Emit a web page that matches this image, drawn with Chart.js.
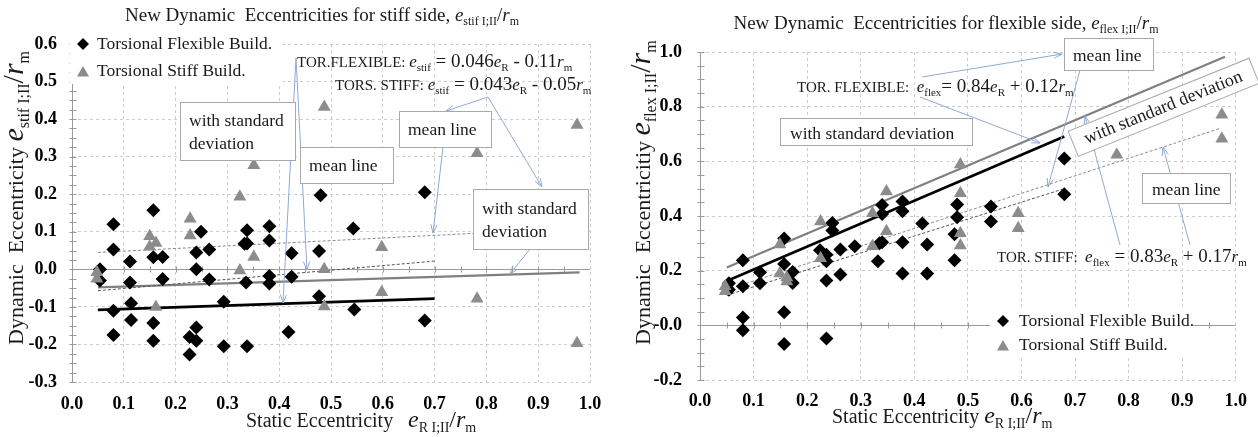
<!DOCTYPE html>
<html>
<head>
<meta charset="utf-8">
<script src="https://cdn.jsdelivr.net/npm/chart.js@4.4.0/dist/chart.umd.min.js"></script>
<style>
  html, body { margin: 0; padding: 0; background: #fff; }
  #wrap { position: relative; width: 1258px; height: 437px; }
  .panel { position: absolute; top: 0; width: 629px; height: 437px; }
  #left { left: 0; }
  #right { left: 629px; }
</style>
</head>
<body>
<div id="wrap">
  <div class="panel" id="left"><canvas id="cLeft" width="629" height="437"></canvas></div>
  <div class="panel" id="right"><canvas id="cRight" width="629" height="437"></canvas></div>
</div>
<script>
const SERIF = '"Liberation Serif", "Times New Roman", serif';

// stiff side: [static eccentricity, dynamic eccentricity]
const stiffSideFlexible = [
  [0.054, 0.0], [0.054, -0.03], [0.08, 0.12], [0.08, 0.053], [0.08, -0.11], [0.08, -0.175],
  [0.112, 0.021], [0.112, -0.035], [0.114, -0.09], [0.114, -0.135],
  [0.157, 0.157], [0.157, 0.032], [0.157, -0.143], [0.157, -0.19], [0.175, 0.033], [0.175, -0.026],
  [0.227, -0.18], [0.227, -0.227], [0.24, -0.155], [0.24, -0.19], [0.24, 0.045], [0.24, 0.0],
  [0.249, 0.1], [0.265, 0.053], [0.265, -0.027], [0.293, -0.086], [0.293, -0.205],
  [0.338, 0.104], [0.338, 0.069], [0.333, 0.068], [0.336, -0.035], [0.338, -0.205],
  [0.381, 0.115], [0.381, 0.077], [0.381, -0.018], [0.381, -0.038],
  [0.418, -0.167], [0.424, 0.043], [0.424, -0.02], [0.477, 0.049], [0.477, -0.072], [0.48, 0.197],
  [0.543, 0.109], [0.545, -0.107], [0.681, -0.136], [0.681, 0.205]
];
const stiffSideStiff = [
  [0.048, -0.008], [0.048, -0.025], [0.15, 0.088], [0.15, 0.06], [0.162, 0.07], [0.162, -0.1],
  [0.228, 0.135], [0.228, 0.09], [0.324, 0.193], [0.324, -0.003], [0.351, 0.277], [0.351, 0.033],
  [0.487, 0.432], [0.487, 0.0], [0.487, -0.099], [0.598, 0.059], [0.598, -0.061],
  [0.782, 0.309], [0.782, -0.078], [0.975, 0.384], [0.975, -0.197]
];
const stiffSideMeanFlex = [[0.05, -0.108], [0.70, -0.078]];
const stiffSideMeanStiff = [[0.05, -0.048], [0.98, -0.008]];
const stiffSideDevFlex = [[0.05, -0.057], [0.70, 0.022]];
const stiffSideDevStiff = [[0.05, 0.045], [0.98, 0.11]];

// flexible side
const flexSideFlexible = [
  [0.054, 0.154], [0.054, 0.13], [0.08, 0.238], [0.08, 0.143], [0.08, 0.029], [0.08, -0.018],
  [0.112, 0.194], [0.112, 0.154], [0.157, 0.318], [0.157, 0.224], [0.157, 0.048], [0.157, -0.068],
  [0.173, 0.195], [0.173, 0.155], [0.224, 0.275], [0.236, 0.258], [0.236, 0.234], [0.236, 0.164],
  [0.236, -0.048], [0.247, 0.374], [0.247, 0.347], [0.262, 0.277], [0.262, 0.186], [0.289, 0.289],
  [0.332, 0.234], [0.335, 0.30], [0.34, 0.304], [0.34, 0.44], [0.34, 0.407],
  [0.378, 0.417], [0.378, 0.453], [0.378, 0.304], [0.378, 0.19],
  [0.415, 0.373], [0.424, 0.296], [0.424, 0.19], [0.48, 0.442], [0.48, 0.395], [0.475, 0.333],
  [0.475, 0.238], [0.543, 0.435], [0.543, 0.38], [0.68, 0.61], [0.68, 0.48]
];
const flexSideStiff = [
  [0.047, 0.143], [0.047, 0.125], [0.149, 0.296], [0.149, 0.19], [0.162, 0.16], [0.162, 0.175],
  [0.225, 0.38], [0.225, 0.245], [0.322, 0.41], [0.322, 0.289], [0.348, 0.344], [0.348, 0.49],
  [0.486, 0.588], [0.486, 0.483], [0.486, 0.337], [0.486, 0.292], [0.594, 0.41], [0.594, 0.355],
  [0.778, 0.624], [0.974, 0.77], [0.974, 0.683]
];
const flexSideMeanFlex = [[0.05, 0.162], [0.68, 0.691]];
const flexSideMeanStiff = [[0.05, 0.2115], [0.98, 0.983]];
const flexSideDevFlex = [[0.05, 0.11], [0.68, 0.50]];
const flexSideDevStiff = [[0.05, 0.13], [0.97, 0.72]];

// tick ranges
const stiffSideX = { min: 0, max: 1, step: 0.1 };
const stiffSideY = { min: -0.3, max: 0.6, step: 0.1, minor: 0.025 };
const flexSideX = { min: 0, max: 1, step: 0.1 };
const flexSideY = { min: -0.2, max: 1.0, step: 0.2, minor: 0.05 };

const toPts = arr => arr.map(p => ({ x: p[0], y: p[1] }));

// rich text pieces
const nm = (t, s) => ({ t, size: s });
const it = (t, s) => ({ t, size: s, italic: true });
const sub = (t, s) => ({ t, size: s, dy: Math.round(s * 0.35) });
const fontOf = p => (p.italic ? 'italic ' : '') + p.size + 'px ' + SERIF;

function richWidth(ctx, parts) {
  let w = 0;
  parts.forEach(p => { ctx.font = fontOf(p); w += ctx.measureText(p.t).width; });
  return w;
}
function drawRich(ctx, parts, x, y, align) {
  let cx = x;
  if (align === 'center') cx -= richWidth(ctx, parts) / 2;
  ctx.textAlign = 'left';
  ctx.textBaseline = 'alphabetic';
  ctx.fillStyle = '#1a1a1a';
  parts.forEach(p => {
    ctx.font = fontOf(p);
    ctx.fillText(p.t, cx, y + (p.dy || 0));
    cx += ctx.measureText(p.t).width;
  });
}
function arrow(ctx, a) {
  const [x1, y1, x2, y2] = a;
  ctx.save();
  ctx.strokeStyle = '#8eaad4';
  ctx.lineWidth = 1;
  ctx.beginPath(); ctx.moveTo(x1, y1); ctx.lineTo(x2, y2); ctx.stroke();
  const ang = Math.atan2(y2 - y1, x2 - x1), L = 9, s = 0.35;
  ctx.beginPath();
  ctx.moveTo(x2 - L * Math.cos(ang - s), y2 - L * Math.sin(ang - s));
  ctx.lineTo(x2, y2);
  ctx.lineTo(x2 - L * Math.cos(ang + s), y2 - L * Math.sin(ang + s));
  ctx.stroke();
  ctx.restore();
}
function textBox(ctx, b) {
  ctx.save();
  if (b.angle) {
    ctx.translate(b.cx, b.cy);
    ctx.rotate(b.angle);
    ctx.fillStyle = '#fff';
    ctx.fillRect(-b.w / 2, -b.h / 2, b.w, b.h);
    ctx.strokeStyle = '#a8a8a8';
    ctx.strokeRect(-b.w / 2 + 0.5, -b.h / 2 + 0.5, b.w, b.h);
    ctx.font = '18px ' + SERIF;
    ctx.fillStyle = '#1a1a1a';
    ctx.textAlign = 'center';
    ctx.textBaseline = 'middle';
    ctx.fillText(b.lines[0], 0, 1);
  } else {
    ctx.fillStyle = '#fff';
    ctx.fillRect(b.x, b.y, b.w, b.h);
    ctx.strokeStyle = '#a8a8a8';
    ctx.lineWidth = 1;
    ctx.strokeRect(b.x + 0.5, b.y + 0.5, b.w, b.h);
    ctx.font = '17.5px ' + SERIF;
    ctx.fillStyle = '#1a1a1a';
    ctx.textAlign = 'left';
    ctx.textBaseline = 'alphabetic';
    b.lines.forEach((l, i) => ctx.fillText(l, b.tx, b.ty[i]));
  }
  ctx.restore();
}
function marker(ctx, kind, x, y) {
  ctx.save();
  ctx.beginPath();
  if (kind === 'diamond') {
    ctx.fillStyle = '#000';
    ctx.moveTo(x, y - 6); ctx.lineTo(x + 6, y); ctx.lineTo(x, y + 6); ctx.lineTo(x - 6, y);
  } else {
    ctx.fillStyle = '#8c8c8c';
    ctx.moveTo(x, y - 6); ctx.lineTo(x + 6, y + 4.5); ctx.lineTo(x - 6, y + 4.5);
  }
  ctx.closePath();
  ctx.fill();
  ctx.restore();
}

// axis lines, minor ticks and all the labels/annotations
const decorPlugin = {
  id: 'decor',
  beforeDatasetsDraw(chart) {
    const d = chart.options.plugins.decor;
    const { ctx, chartArea: a, scales: { x, y } } = chart;
    ctx.save();
    ctx.strokeStyle = '#9a9a9a';
    ctx.lineWidth = 1;
    const x0 = Math.round(x.getPixelForValue(0)) + 0.5;
    const y0 = Math.round(y.getPixelForValue(0)) + 0.5;
    ctx.beginPath();
    ctx.moveTo(x0, a.top); ctx.lineTo(x0, a.bottom);
    ctx.moveTo(a.left, y0); ctx.lineTo(a.right, y0);
    // minor ticks on the vertical axis
    const ym = d.yMinor;
    for (let v = y.min; v <= y.max + 1e-9; v += ym) {
      const py = Math.round(y.getPixelForValue(v)) + 0.5;
      ctx.moveTo(x0 - 3, py); ctx.lineTo(x0 + 4, py);
    }
    // ticks along the zero line
    for (let v = 0.05; v < 1; v += 0.05) {
      const px = Math.round(x.getPixelForValue(v)) + 0.5;
      ctx.moveTo(px, y0 - 3); ctx.lineTo(px, y0 + 3);
    }
    ctx.stroke();
    ctx.restore();
  },
  afterDatasetsDraw(chart) {
    const d = chart.options.plugins.decor;
    const ctx = chart.ctx;
    d.arrows.forEach(a => arrow(ctx, a));
    d.boxes.forEach(b => textBox(ctx, b));
    d.formulas.forEach(f => drawRich(ctx, f.parts, f.x, f.y, 'left'));
    // legend
    const lg = d.legend;
    ctx.fillStyle = '#fff';
    ctx.fillRect(lg.x, lg.y, lg.w, lg.h);
    marker(ctx, 'diamond', lg.mx, lg.my[0]);
    marker(ctx, 'triangle', lg.mx, lg.my[1]);
    ctx.font = '17.5px ' + SERIF;
    ctx.fillStyle = '#1a1a1a';
    ctx.textAlign = 'left';
    ctx.textBaseline = 'alphabetic';
    ctx.fillText('Torsional Flexible Build.', lg.tx, lg.ty[0]);
    ctx.fillText('Torsional Stiff Build.', lg.tx, lg.ty[1]);
    // titles
    drawRich(ctx, d.title.parts, d.title.x, d.title.y, 'center');
    d.xTitle.forEach(t => drawRich(ctx, t.parts, t.x, t.y, 'left'));
    ctx.save();
    ctx.translate(d.yTitle.x, d.yTitle.y);
    ctx.rotate(-Math.PI / 2);
    drawRich(ctx, d.yTitle.parts, 0, 0, 'left');
    ctx.restore();
  }
};

function buildChart(id, cfg) {
  const lineDs = (pts, color, width, dash) => ({
    data: toPts(pts), showLine: true, pointRadius: 0, borderColor: color,
    borderWidth: width, borderDash: dash || [], fill: false, order: 5
  });
  const tickFont = { family: SERIF, size: 18, weight: 'bold' };
  return new Chart(document.getElementById(id), {
    type: 'scatter',
    data: {
      datasets: [
        { data: toPts(cfg.stiff), pointStyle: 'triangle', pointRadius: 7.5, backgroundColor: '#8c8c8c', borderWidth: 0, order: 0 },
        { data: toPts(cfg.flex), pointStyle: 'rectRot', pointRadius: 7, backgroundColor: '#000', borderWidth: 0, order: 1 },
        lineDs(cfg.devStiff, '#8a8a8a', 1, [3, 2]),
        lineDs(cfg.devFlex, '#555', 1, [3, 2]),
        lineDs(cfg.meanStiff, '#808080', 2.2),
        lineDs(cfg.meanFlex, '#000', 2.6)
      ]
    },
    plugins: [decorPlugin],
    options: {
      responsive: false,
      animation: false,
      events: [],
      layout: { padding: cfg.padding },
      plugins: { legend: { display: false }, tooltip: { enabled: false }, decor: cfg.decor },
      scales: {
        x: {
          type: 'linear', min: cfg.xr.min, max: cfg.xr.max,
          afterFit: s => { s.height = 40; },
          ticks: { stepSize: cfg.xr.step, padding: cfg.xPad, color: '#000', font: tickFont, callback: v => v.toFixed(1) },
          grid: { color: c => c.tick && Math.abs(c.tick.value) < 1e-9 ? 'rgba(0,0,0,0)' : '#cdcdcd', lineWidth: 1, drawTicks: false },
          border: { display: false, dash: [3, 3] }
        },
        y: {
          type: 'linear', min: cfg.yr.min, max: cfg.yr.max,
          afterFit: s => { s.width = 50; },
          ticks: { stepSize: cfg.yr.step, padding: cfg.yPad, color: '#000', font: tickFont, callback: v => v.toFixed(1) },
          grid: { color: c => c.tick && Math.abs(c.tick.value) < 1e-9 ? 'rgba(0,0,0,0)' : '#cdcdcd', lineWidth: 1, drawTicks: false },
          border: { display: false, dash: [3, 3] }
        }
      }
    }
  });
}

// left panel: stiff side
buildChart('cLeft', {
  flex: stiffSideFlexible, stiff: stiffSideStiff,
  meanFlex: stiffSideMeanFlex, meanStiff: stiffSideMeanStiff,
  devFlex: stiffSideDevFlex, devStiff: stiffSideDevStiff,
  xr: stiffSideX, yr: stiffSideY,
  padding: { left: 22, right: 39, top: 44, bottom: 15 },
  xPad: 12, yPad: 15,
  decor: {
    yMinor: stiffSideY.minor,
    title: { x: 322, y: 21, parts: [nm('New Dynamic  Eccentricities for stiff side, ', 19), it('e', 19), sub('stif I;II', 12), nm('/', 19), it('r', 19), sub('m', 12)] },
    xTitle: [
      { x: 246, y: 427, parts: [nm('Static Eccentricity', 20)] },
      { x: 408, y: 427, parts: [it('e', 24), sub('R I;II', 14), nm('/', 24), it('r', 24), sub('m', 14)] }
    ],
    yTitle: { x: 23, y: 345, parts: [nm('Dynamic  Eccentricity ', 22), it('e', 30), sub('stif I;II', 16), nm('/', 30), it('r', 30), sub('m', 16)] },
    legend: { x: 70, y: 28, w: 212, h: 56, mx: 83, my: [44, 72], tx: 97, ty: [49, 76] },
    formulas: [
      { x: 297, y: 67, parts: [nm('TOR.FLEXIBLE: ', 15), it('e', 17), sub('stif', 11), nm(' = 0.046', 19), it('e', 17), sub('R', 11), nm(' - 0.11', 19), it('r', 17), sub('m', 11)] },
      { x: 335, y: 90, parts: [nm('TORS. STIFF: ', 15), it('e', 17), sub('stif', 11), nm(' = 0.043', 19), it('e', 17), sub('R', 11), nm(' - 0.05', 19), it('r', 17), sub('m', 11)] }
    ],
    arrows: [
      [296, 58, 283, 303], [296, 58, 307, 270], [488, 97, 446, 111],
      [488, 97, 542, 187], [443, 147, 433, 233], [530, 249, 510, 274]
    ],
    boxes: [
      { x: 180, y: 102, w: 115, h: 58, lines: ['with standard', 'deviation'], tx: 189, ty: [126, 149] },
      { x: 300, y: 147, w: 93, h: 36, lines: ['mean line'], tx: 309, ty: [171] },
      { x: 399, y: 111, w: 92, h: 36, lines: ['mean line'], tx: 408, ty: [135] },
      { x: 473, y: 189, w: 115, h: 60, lines: ['with standard', 'deviation'], tx: 482, ty: [214, 237] }
    ]
  }
});

// right panel: flexible side
buildChart('cRight', {
  flex: flexSideFlexible, stiff: flexSideStiff,
  meanFlex: flexSideMeanFlex, meanStiff: flexSideMeanStiff,
  devFlex: flexSideDevFlex, devStiff: flexSideDevStiff,
  xr: flexSideX, yr: flexSideY,
  padding: { left: 21, right: 21, top: 52, bottom: 17 },
  xPad: 11, yPad: 18,
  decor: {
    yMinor: flexSideY.minor,
    title: { x: 317, y: 29, parts: [nm('New Dynamic  Eccentricities for flexible side, ', 19), it('e', 19), sub('flex I;II', 12), nm('/', 19), it('r', 19), sub('m', 12)] },
    xTitle: [
      { x: 203, y: 423, parts: [nm('Static Eccentricity ', 20), it('e', 24), sub('R I;II', 14), nm('/', 24), it('r', 24), sub('m', 14)] }
    ],
    yTitle: { x: 21, y: 345, parts: [nm('Dynamic  Eccentricitiy ', 22), it('e', 30), sub('flex I;II', 16), nm('/', 30), it('r', 30), sub('m', 16)] },
    legend: { x: 361, y: 307, w: 203, h: 50, mx: 374, my: [321, 346], tx: 390, ty: [326, 350] },
    formulas: [
      { x: 168, y: 92, parts: [nm('TOR. FLEXIBLE:  ', 15), it('e', 17), sub('flex', 11), nm('= 0.84', 19), it('e', 17), sub('R', 11), nm(' + 0.12', 19), it('r', 17), sub('m', 11)] },
      { x: 368, y: 262, parts: [nm('TOR. STIFF:  ', 15), it('e', 17), sub('flex', 11), nm(' = 0.83', 19), it('e', 17), sub('R', 11), nm(' + 0.17', 19), it('r', 17), sub('m', 11)] }
    ],
    arrows: [
      [293, 77, 433, 54], [291, 97, 411, 143], [451, 70, 419, 187],
      [491, 245, 456, 116], [561, 245, 534, 147]
    ],
    boxes: [
      { x: 151, y: 118, w: 192, h: 27, lines: ['with standard deviation'], tx: 161, ty: [139] },
      { x: 435, y: 38, w: 89, h: 32, lines: ['mean line'], tx: 444, ty: [61] },
      { cx: 534, cy: 107, w: 195, h: 27, angle: -22 * Math.PI / 180, lines: ['with standard deviation'] },
      { x: 513, y: 173, w: 88, h: 30, lines: ['mean line'], tx: 523, ty: [195] }
    ]
  }
});
</script>
</body>
</html>
